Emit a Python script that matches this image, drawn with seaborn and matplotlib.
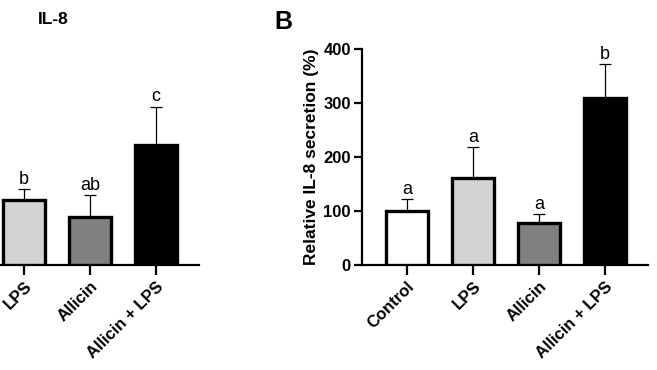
import numpy as np
import seaborn as sns
import matplotlib.pyplot as plt

# data
groups = ['Control', 'LPS', 'Allicin', 'Allicin + LPS']
bar_colors = ['#ffffff', '#d3d3d3', '#808080', '#000000']

# panel B: relative IL-8 secretion (%)
rel_mean = [100, 162, 78, 309]
rel_sem = [22, 56, 16, 63]
rel_letters = ['a', 'a', 'a', 'b']

# panel A (cropped, only right part visible), same plotting scale
abs_mean = [100, 120, 89, 223]
abs_sem = [20, 20, 40, 70]
abs_letters = ['', 'b', 'ab', 'c']

sns.set_style('ticks')
plt.rcParams['font.family'] = ['Liberation Sans', 'DejaVu Sans']
for k in ['text.color', 'axes.labelcolor', 'xtick.color', 'ytick.color', 'axes.edgecolor']:
    plt.rcParams[k] = 'black'

fig = plt.figure(figsize=(6.57, 3.70), dpi=100)
W, H = 657, 370


def draw_panel(ax, means, sems, letters):
    sns.barplot(x=groups, y=means, hue=groups, palette=bar_colors, legend=False,
                edgecolor='black', linewidth=2.4, width=0.64, ax=ax,
                errorbar=None, zorder=3)
    x = np.arange(len(groups))
    ax.errorbar(x, means, yerr=[np.zeros(len(means)), sems], fmt='none',
                ecolor='black', elinewidth=0.9, capsize=4, capthick=0.9, zorder=2)
    for xi, m, s, lab in zip(x, means, sems, letters):
        if lab:
            ax.annotate(lab, (xi, m + s), xytext=(0, 1.0), textcoords='offset points',
                        ha='center', va='bottom', fontsize=13)
    ax.set_xlim(-0.68, 3.65)
    ax.set_ylim(0, 400)
    sns.despine(ax=ax)
    for sp in ['left', 'bottom']:
        ax.spines[sp].set_linewidth(1.6)
    ax.tick_params(axis='both', width=1.6, labelsize=12)
    ax.tick_params(axis='y', length=6, pad=2)
    ax.tick_params(axis='x', length=7, pad=3)
    ax.set_yticks([0, 100, 200, 300, 400])
    ax.set_xticks(x)
    ax.set_xticklabels(groups, rotation=45, ha='right', rotation_mode='anchor',
                       fontweight='bold')
    for t in ax.get_yticklabels():
        t.set_fontweight('bold')


# right panel B
axB = fig.add_axes([362 / W, 105 / H, 286 / W, 216 / H])
draw_panel(axB, rel_mean, rel_sem, rel_letters)
axB.set_ylabel('Relative IL-8 secretion (%)', fontsize=12.5, fontweight='bold',
               labelpad=3)

# left panel (cut off at the figure edge, its y axis lies outside the picture)
axA = fig.add_axes([-87 / W, 105 / H, 286 / W, 216 / H])
draw_panel(axA, abs_mean, abs_sem, abs_letters)
axA.set_yticklabels([])
axA.set_xticklabels([''] + groups[1:], rotation=45, ha='right',
                    rotation_mode='anchor', fontweight='bold')

fig.text(53 / W, 1 - 20 / H, 'IL-8', fontsize=12.5, fontweight='bold',
         ha='center', va='center')
fig.text(283 / W, 1 - 22 / H, 'B', fontsize=18, fontweight='bold',
         ha='center', va='center')

fig.savefig('out.png', dpi=100)
